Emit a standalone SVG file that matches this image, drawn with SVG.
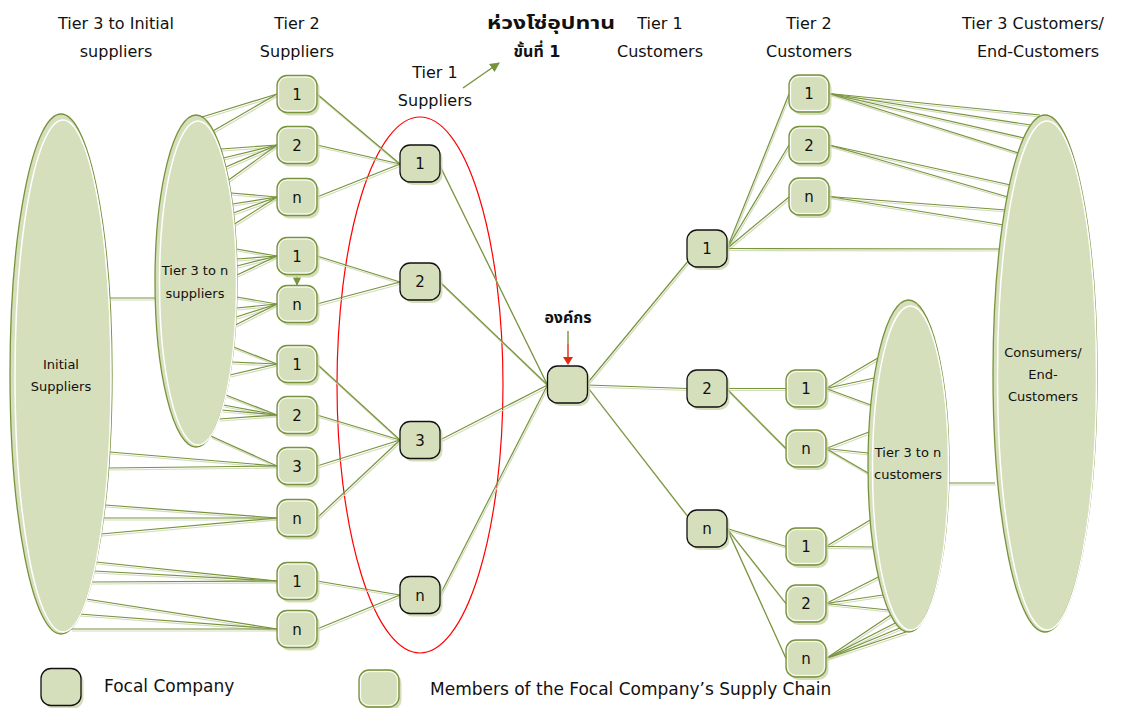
<svg xmlns="http://www.w3.org/2000/svg" xmlns:xlink="http://www.w3.org/1999/xlink" width="1121" height="708" viewBox="0 0 1121 708">
<style>
.t{font-family:"DejaVu Sans","Noto Sans","Noto Sans Thai","Liberation Sans",sans-serif;fill:#111;text-anchor:middle}
.h{font-size:16px}
.th{font-size:16px;font-weight:bold}
.n{font-size:15px}
.el{font-size:13px}
.lg{font-size:17px;text-anchor:start}
.ef{fill:#d6dfbb;stroke:#77933c;stroke-width:1.3}
.ei{fill:none;stroke:#fff;stroke-width:1.5}
</style>
<defs>
<g id="mb">
<rect x="2.5" y="3" width="40" height="37" rx="10" fill="#c9d6aa" opacity="0.8"/>
<rect x="0" y="0" width="40" height="37" rx="10" fill="#d6dfbb" stroke="#77933c" stroke-width="1.3"/>
<rect x="1.6" y="1.6" width="36.8" height="33.8" rx="8.5" fill="none" stroke="#fff" stroke-width="1"/>
</g>
<g id="fb">
<rect x="2.5" y="3" width="40" height="37" rx="10" fill="#c9d6aa" opacity="0.8"/>
<rect x="0" y="0" width="40" height="37" rx="10" fill="#d6dfbb" stroke="#111" stroke-width="1.3"/>
</g>
<marker id="ag" viewBox="0 0 10 10" refX="9" refY="5" markerWidth="7" markerHeight="7" orient="auto"><path d="M0,0 L10,5 L0,10 z" fill="#77933c"/></marker>
</defs>
<rect width="1121" height="708" fill="#fff"/>

<!-- headers -->
<g id="headers">
<text class="t h" x="116" y="29">Tier 3 to Initial</text>
<text class="t h" x="116" y="57">suppliers</text>
<text class="t h" x="297" y="29">Tier 2</text>
<text class="t h" x="297" y="57">Suppliers</text>
<text class="t th" x="551" y="29" style="font-size:17px" textLength="128" lengthAdjust="spacingAndGlyphs">ห่วงโซ่อุปทาน</text>
<text class="t th" x="537" y="57">ขั้นที่ 1</text>
<text class="t h" x="660" y="29">Tier 1</text>
<text class="t h" x="660" y="57">Customers</text>
<text class="t h" x="809" y="29">Tier 2</text>
<text class="t h" x="809" y="57">Customers</text>
<text class="t h" x="1033" y="29">Tier 3 Customers/</text>
<text class="t h" x="1038" y="57">End-Customers</text>
<text class="t h" x="435" y="78">Tier 1</text>
<text class="t h" x="435" y="106">Suppliers</text>
<text class="t th" x="568" y="323">องค์กร</text>
</g>

<!-- red tier-1 ellipse -->
<ellipse id="tier1-boundary" cx="420" cy="385" rx="83" ry="268" fill="none" stroke="#ff0000" stroke-width="1.2"/>

<!-- connectors -->
<g id="connectors" fill="none" stroke-width="1.2">
<use href="#lines" transform="translate(1,2)" stroke="#d3dcbc"/>
<g stroke="#77933c">
<g id="lines">
<line x1="110" y1="298" x2="155" y2="298"/>
<line x1="202" y1="117" x2="277" y2="94"/>
<line x1="213" y1="131" x2="277" y2="94"/>
<line x1="221" y1="149" x2="277" y2="145"/>
<line x1="223.5" y1="158" x2="277" y2="145"/>
<line x1="225.8" y1="167" x2="277" y2="145"/>
<line x1="228.6" y1="180" x2="277" y2="145"/>
<line x1="230.8" y1="193" x2="277" y2="197"/>
<line x1="232.3" y1="204" x2="277" y2="197"/>
<line x1="233.4" y1="213" x2="277" y2="197"/>
<line x1="234.5" y1="224" x2="277" y2="197"/>
<line x1="236.2" y1="249" x2="277" y2="256"/>
<line x1="236.6" y1="259" x2="277" y2="256"/>
<line x1="236.8" y1="266" x2="277" y2="256"/>
<line x1="237" y1="275" x2="277" y2="256"/>
<line x1="236.8" y1="297" x2="277" y2="304"/>
<line x1="236.5" y1="308" x2="277" y2="304"/>
<line x1="236.2" y1="317" x2="277" y2="304"/>
<line x1="235.5" y1="325" x2="277" y2="304"/>
<line x1="233.6" y1="347" x2="277" y2="364"/>
<line x1="231.8" y1="362" x2="277" y2="364"/>
<line x1="229.8" y1="375" x2="277" y2="364"/>
<line x1="225.8" y1="395" x2="277" y2="415"/>
<line x1="223.5" y1="405" x2="277" y2="415"/>
<line x1="221.8" y1="410" x2="277" y2="415"/>
<line x1="218.8" y1="419" x2="277" y2="415"/>
<line x1="210.7" y1="436" x2="277" y2="466"/>
<line x1="109.6" y1="452" x2="277" y2="466"/>
<line x1="108.5" y1="468" x2="277" y2="466"/>
<line x1="105" y1="505" x2="277" y2="518"/>
<line x1="103" y1="518" x2="277" y2="518"/>
<line x1="101" y1="534" x2="277" y2="518"/>
<line x1="96" y1="562" x2="277" y2="581"/>
<line x1="94" y1="571" x2="277" y2="581"/>
<line x1="91" y1="582" x2="277" y2="581"/>
<line x1="86" y1="599" x2="277" y2="629"/>
<line x1="79" y1="614" x2="277" y2="629"/>
<line x1="71" y1="629" x2="277" y2="629"/>
<line x1="317" y1="94" x2="400" y2="164"/>
<line x1="317" y1="145" x2="400" y2="164"/>
<line x1="317" y1="197" x2="400" y2="164"/>
<line x1="317" y1="256" x2="400" y2="282"/>
<line x1="317" y1="304" x2="400" y2="282"/>
<line x1="317" y1="364" x2="400" y2="440"/>
<line x1="317" y1="415" x2="400" y2="440"/>
<line x1="317" y1="466" x2="400" y2="440"/>
<line x1="317" y1="518" x2="400" y2="440"/>
<line x1="317" y1="581" x2="400" y2="595"/>
<line x1="317" y1="629" x2="400" y2="595"/>
<line x1="440" y1="166" x2="547.5" y2="385"/>
<line x1="440" y1="282" x2="547.5" y2="385"/>
<line x1="440" y1="440" x2="547.5" y2="385"/>
<line x1="440" y1="595" x2="547.5" y2="385"/>
<line x1="587.5" y1="383" x2="689" y2="260"/>
<line x1="587.5" y1="385" x2="687" y2="388.5"/>
<line x1="587.5" y1="387" x2="689" y2="518"/>
<line x1="727" y1="248.5" x2="789" y2="94"/>
<line x1="727" y1="248.5" x2="789" y2="145"/>
<line x1="727" y1="248.5" x2="789" y2="197"/>
<line x1="727" y1="248.5" x2="1001" y2="249"/>
<line x1="829" y1="93.5" x2="1040" y2="115"/>
<line x1="829" y1="93.5" x2="1030.5" y2="125"/>
<line x1="829" y1="93.5" x2="1024" y2="138"/>
<line x1="829" y1="93.5" x2="1018.6" y2="153"/>
<line x1="829" y1="145" x2="1010.6" y2="185"/>
<line x1="829" y1="145" x2="1008" y2="197"/>
<line x1="829" y1="196.5" x2="1006" y2="210"/>
<line x1="829" y1="196.5" x2="1004" y2="225"/>
<line x1="727" y1="388.5" x2="786" y2="388.5"/>
<line x1="727" y1="389" x2="786" y2="448.5"/>
<line x1="727" y1="528.5" x2="786" y2="546.5"/>
<line x1="727" y1="528.5" x2="786" y2="603.5"/>
<line x1="727" y1="528.5" x2="786" y2="658.5"/>
<line x1="826" y1="388.5" x2="877.8" y2="358"/>
<line x1="826" y1="388.5" x2="874.2" y2="378"/>
<line x1="826" y1="388.5" x2="870.8" y2="405"/>
<line x1="826" y1="448.5" x2="868.9" y2="432"/>
<line x1="826" y1="448.5" x2="868.1" y2="453"/>
<line x1="826" y1="448.5" x2="868.1" y2="473"/>
<line x1="826" y1="546.5" x2="870.2" y2="520"/>
<line x1="826" y1="546.5" x2="873.1" y2="547"/>
<line x1="826" y1="603.5" x2="878.4" y2="577"/>
<line x1="826" y1="603.5" x2="883" y2="595"/>
<line x1="826" y1="603.5" x2="888.3" y2="610"/>
<line x1="826" y1="658.5" x2="890.7" y2="615"/>
<line x1="826" y1="658.5" x2="895.3" y2="623"/>
<line x1="826" y1="658.5" x2="899.7" y2="628"/>
<line x1="826" y1="658.5" x2="906" y2="632"/>
<line x1="949" y1="483" x2="995" y2="483"/>
</g>
</g>
<line x1="463" y1="88" x2="499" y2="63" stroke="#77933c" stroke-width="1.4" marker-end="url(#ag)"/>
<line x1="297" y1="276" x2="297" y2="285" stroke="#77933c" stroke-width="1.2" marker-end="url(#ag)"/>
<line x1="568" y1="331" x2="568" y2="344" stroke="#77933c" stroke-width="1.4"/>
<line x1="568" y1="344" x2="568" y2="358" stroke="#e02a10" stroke-width="1.4"/>
<path d="M563,357 L573,357 L568,365 z" fill="#e02a10"/>
</g>

<!-- ellipse nodes -->
<g id="initial-suppliers">
<ellipse class="ef" cx="61" cy="374" rx="51" ry="260"/>
<ellipse class="ei" cx="63" cy="376" rx="48" ry="256"/>
<text class="t el" x="61" y="369">Initial</text>
<text class="t el" x="61" y="391">Suppliers</text>
</g>
<g id="tier3-suppliers">
<ellipse class="ef" cx="196" cy="281" rx="41" ry="166"/>
<ellipse class="ei" cx="198" cy="283" rx="38.5" ry="162"/>
<text class="t el" x="195" y="275">Tier 3 to n</text>
<text class="t el" x="195" y="298">suppliers</text>
</g>
<g id="tier3-customers">
<ellipse class="ef" cx="908.5" cy="466" rx="40.5" ry="166"/>
<ellipse class="ei" cx="910.5" cy="468" rx="38" ry="162"/>
<text class="t el" x="908" y="457">Tier 3 to n</text>
<text class="t el" x="908" y="479">customers</text>
</g>
<g id="consumers">
<ellipse class="ef" cx="1045" cy="373.5" rx="52" ry="258.5"/>
<ellipse class="ei" cx="1047" cy="375.5" rx="49.5" ry="254.5"/>
<text class="t el" x="1043" y="357">Consumers/</text>
<text class="t el" x="1043" y="379">End-</text>
<text class="t el" x="1043" y="401">Customers</text>
</g>

<!-- tier 2 suppliers -->
<g id="s2-1"><use href="#mb" x="277" y="75.5"/><text class="t n" x="297" y="99.5">1</text></g>
<g id="s2-2"><use href="#mb" x="277" y="126.5"/><text class="t n" x="297" y="150.5">2</text></g>
<g id="s2-n"><use href="#mb" x="277" y="178.5"/><text class="t n" x="297" y="202.5">n</text></g>
<g id="s2-1b"><use href="#mb" x="277" y="237.5"/><text class="t n" x="297" y="261.5">1</text></g>
<g id="s2-nb"><use href="#mb" x="277" y="285.5"/><text class="t n" x="297" y="309.5">n</text></g>
<g id="s2-1c"><use href="#mb" x="277" y="345.5"/><text class="t n" x="297" y="369.5">1</text></g>
<g id="s2-2c"><use href="#mb" x="277" y="396.5"/><text class="t n" x="297" y="420.5">2</text></g>
<g id="s2-3c"><use href="#mb" x="277" y="447.5"/><text class="t n" x="297" y="471.5">3</text></g>
<g id="s2-nc"><use href="#mb" x="277" y="499.5"/><text class="t n" x="297" y="523.5">n</text></g>
<g id="s2-1d"><use href="#mb" x="277" y="562.5"/><text class="t n" x="297" y="586.5">1</text></g>
<g id="s2-nd"><use href="#mb" x="277" y="610.5"/><text class="t n" x="297" y="634.5">n</text></g>

<!-- tier 1 suppliers -->
<g id="s1-1"><use href="#fb" x="400" y="145"/><text class="t n" x="420" y="169">1</text></g>
<g id="s1-2"><use href="#fb" x="400" y="263"/><text class="t n" x="420" y="287">2</text></g>
<g id="s1-3"><use href="#fb" x="400" y="421.5"/><text class="t n" x="420" y="445.5">3</text></g>
<g id="s1-n"><use href="#fb" x="400" y="576.5"/><text class="t n" x="420" y="600.5">n</text></g>

<!-- focal company -->
<g id="focal"><use href="#fb" x="547.5" y="366"/></g>

<!-- tier 1 customers -->
<g id="c1-1"><use href="#fb" x="687" y="230"/><text class="t n" x="707" y="254">1</text></g>
<g id="c1-2"><use href="#fb" x="687" y="370"/><text class="t n" x="707" y="394">2</text></g>
<g id="c1-n"><use href="#fb" x="687" y="510"/><text class="t n" x="707" y="534">n</text></g>

<!-- tier 2 customers -->
<g id="c2-1"><use href="#mb" x="789" y="75"/><text class="t n" x="809" y="99" fill="#444">1</text></g>
<g id="c2-2"><use href="#mb" x="789" y="126.5"/><text class="t n" x="809" y="150.5" fill="#444">2</text></g>
<g id="c2-n"><use href="#mb" x="789" y="178"/><text class="t n" x="809" y="202">n</text></g>
<g id="c2-1b"><use href="#mb" x="786" y="370"/><text class="t n" x="806" y="394">1</text></g>
<g id="c2-nb"><use href="#mb" x="786" y="430"/><text class="t n" x="806" y="454">n</text></g>
<g id="c2-1c"><use href="#mb" x="786" y="528"/><text class="t n" x="806" y="552">1</text></g>
<g id="c2-2c"><use href="#mb" x="786" y="585"/><text class="t n" x="806" y="609">2</text></g>
<g id="c2-nc"><use href="#mb" x="786" y="640"/><text class="t n" x="806" y="664">n</text></g>

<!-- legend -->
<g id="legend-focal"><use href="#fb" x="41" y="668.5"/><text class="t lg" x="104" y="692">Focal Company</text></g>
<g id="legend-member"><use href="#mb" x="359" y="670"/><text class="t lg" x="430" y="695">Members of the Focal Company’s Supply Chain</text></g>
</svg>
